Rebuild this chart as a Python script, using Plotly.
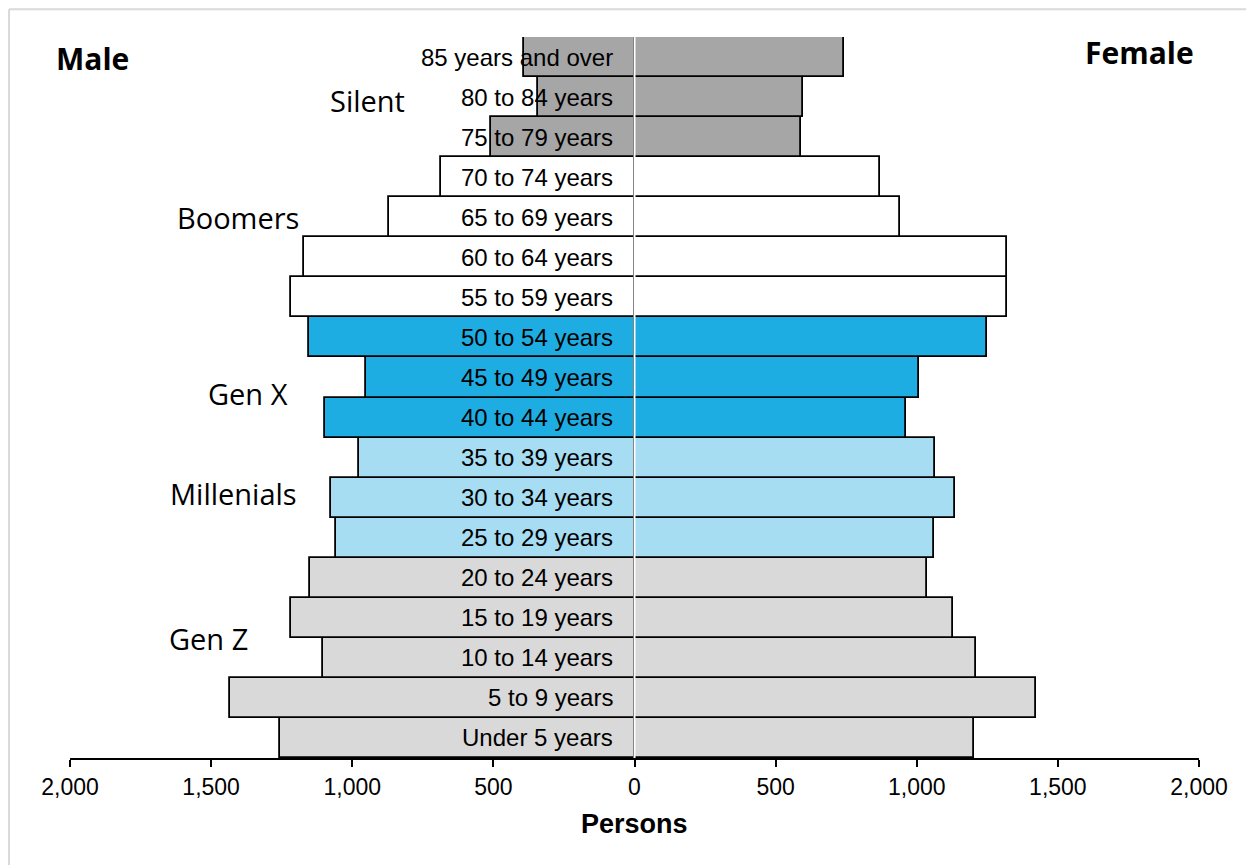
import plotly.graph_objects as go

# age groups, bottom to top
age_groups = ["Under 5 years", "5 to 9 years", "10 to 14 years", "15 to 19 years",
              "20 to 24 years", "25 to 29 years", "30 to 34 years", "35 to 39 years",
              "40 to 44 years", "45 to 49 years", "50 to 54 years", "55 to 59 years",
              "60 to 64 years", "65 to 69 years", "70 to 74 years", "75 to 79 years",
              "80 to 84 years", "85 years and over"]
male = [1257, 1434, 1104, 1217, 1150, 1058, 1075, 976, 1097, 951, 1153, 1217,
        1171, 870, 686, 508, 342, 391]
female = [1203, 1422, 1210, 1128, 1036, 1061, 1136, 1065, 962, 1008, 1249, 1320,
          1320, 941, 870, 590, 597, 742]
generation = ["Gen Z"] * 5 + ["Millenials"] * 3 + ["Gen X"] * 3 + ["Boomers"] * 4 + ["Silent"] * 3

gen_colors = {"Gen Z": "#d9d9d9", "Millenials": "#a6ddf3", "Gen X": "#1eade3",
              "Boomers": "#ffffff", "Silent": "#a6a6a6"}
bar_colors = [gen_colors[g] for g in generation]

tick_vals = [-2000, -1500, -1000, -500, 0, 500, 1000, 1500, 2000]
tick_text = ["2,000", "1,500", "1,000", "500", "0", "500", "1,000", "1,500", "2,000"]

fig = go.Figure()
fig.add_trace(go.Bar(y=age_groups, x=[-v for v in male], orientation="h", name="Male",
                     marker=dict(color=bar_colors, line=dict(color="black", width=1.8)),
                     width=1))
fig.add_trace(go.Bar(y=age_groups, x=female, orientation="h", name="Female",
                     marker=dict(color=bar_colors, line=dict(color="black", width=1.8)),
                     width=1))

# white divider at zero
fig.add_shape(type="line", x0=0, x1=0, y0=0, y1=1, xref="x", yref="paper",
              line=dict(color="white", width=2), layer="above")

# age labels right-aligned left of the divider
for age in age_groups:
    fig.add_annotation(text=age, x=-70, y=age, xref="x", yref="y", xanchor="right",
                       showarrow=False, font=dict(family="Liberation Sans, Arial", size=24, color="black"))

gen_font = dict(family="Open Sans", size=29, color="black")
for txt, gx, gy in [("Silent", 0.2639, 0.9126), ("Boomers", 0.1488, 0.7503),
                    ("Gen X", 0.1577, 0.5062), ("Millenials", 0.1444, 0.3662),
                    ("Gen Z", 0.1231, 0.1664)]:
    fig.add_annotation(text=txt, x=gx, y=gy, xref="paper", yref="paper",
                       xanchor="center", yanchor="middle", showarrow=False, font=gen_font)
fig.add_annotation(text="<b>Male</b>", x=0.0195, y=0.9695, xref="paper", yref="paper",
                   xanchor="center", yanchor="middle", showarrow=False,
                   font=dict(family="Open Sans", size=30, color="black"))
fig.add_annotation(text="<b>Female</b>", x=0.9477, y=0.979, xref="paper", yref="paper",
                   xanchor="center", yanchor="middle", showarrow=False,
                   font=dict(family="Open Sans", size=30, color="black"))
fig.add_annotation(text="<b>Persons</b>", x=0.5, y=-0.0915, xref="paper", yref="paper",
                   xanchor="center", yanchor="middle", showarrow=False,
                   font=dict(family="Liberation Sans, Arial", size=27, color="black"))

# light gray frame (top and left)
fig.add_shape(type="line", xref="paper", yref="paper", x0=-0.054, x1=1.06, y0=1.0385, y1=1.0385,
              line=dict(color="#d9d9d9", width=2))
fig.add_shape(type="line", xref="paper", yref="paper", x0=-0.054, x1=-0.054, y0=1.0385, y1=-0.16,
              line=dict(color="#d9d9d9", width=2))

fig.update_layout(
    width=1246, height=857,
    barmode="overlay", bargap=0, showlegend=False,
    plot_bgcolor="white", paper_bgcolor="white",
    margin=dict(l=62, r=55, t=29, b=107),
    xaxis=dict(range=[-2000, 2000], tickvals=tick_vals, ticktext=tick_text,
               showgrid=False, zeroline=False, showline=True, linecolor="black", linewidth=2,
               ticks="outside", ticklen=7, tickwidth=2, tickcolor="black",
               tickfont=dict(family="Liberation Sans, Arial", size=23, color="black")),
    yaxis=dict(categoryorder="array", categoryarray=age_groups, range=[-0.5, 17.5],
               showticklabels=False, showgrid=False, zeroline=False, showline=False, ticks=""),
)

fig.write_html("out.html")
